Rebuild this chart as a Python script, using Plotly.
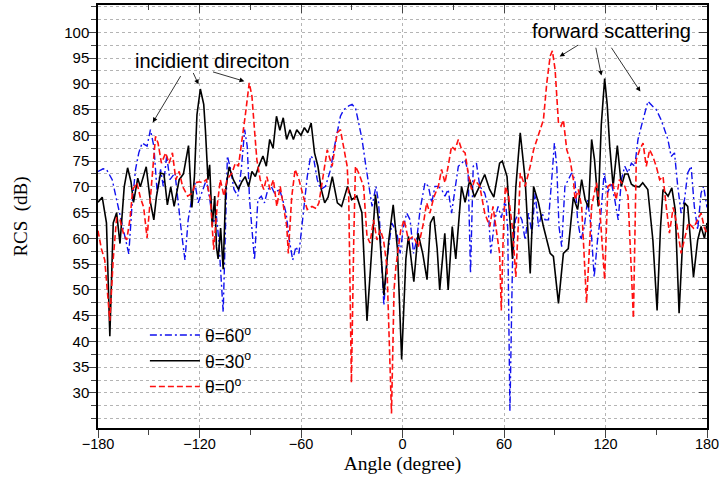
import plotly.graph_objects as go

# theta = 60 deg (blue, dash-dot)
ANGLE_60 = [-180, -177, -175, -171.6, -168.6, -166.6, -163.7, -161.8, -159.8, -157.8, -155.9, -153.9,
            -151, -149, -147, -145, -143, -141.4, -139.4, -137.5, -134.5, -132.5, -130.6, -128.6,
            -126.7, -124.7, -122.7, -120.8, -118.8, -115.9, -113.9, -112, -110, -108.6, -106, -103.5,
            -101.6, -99.6, -97.3, -95.3, -93.3, -91.8, -90.4, -89.4, -87.5, -85.5, -83.5, -81.6,
            -79.6, -77.6, -75.7, -72.7, -70.8, -68.8, -66.9, -64.9, -63, -61.2, -58.2, -56.3,
            -54.3, -52.4, -50.4, -48.4, -45.5, -42.5, -40.6, -38.6, -36.7, -34.7, -31.8, -29.8,
            -27.8, -25.9, -23.9, -21.9, -20, -18, -15.7, -14.1, -12.2, -11, -9.2, -6.3,
            -3.3, -1.4, 0.6, 2.5, 4.5, 6.5, 8.4, 10.4, 13.3, 15.3, 17.3, 19.2,
            21.2, 23.1, 25.1, 27, 29, 31, 33, 35, 37, 38.8, 40.2, 41.8,
            43.7, 45.7, 48.6, 50.6, 52.2, 54.5, 56.5, 58.4, 60.8, 62.2, 63.5, 65,
            66.7, 68.6, 70.6, 72.5, 74.5, 76.5, 78.4, 80.4, 82.4, 84.3, 86.3, 88.2,
            89.8, 91.2, 92.5, 94.1, 96, 98, 100, 101.9, 103.5, 105.5, 107.5, 109.4,
            111.4, 113.3, 115.3, 117.3, 119.2, 121.2, 123.5, 125.5, 127.5, 129.4, 131.4, 133.3,
            135.3, 137.3, 139.2, 141.2, 143.1, 145.1, 148, 150, 152.9, 154.9, 156.9, 158.8,
            160.8, 162.7, 164.7, 166.7, 168.6, 170.6, 172.5, 174.5, 176.5, 178, 180]
RCS_60 = [73, 73.5, 73.4, 71.4, 66.9, 64, 59.7, 57, 66.9, 73.4, 76.6, 78.5,
          77.9, 81.1, 77.9, 68.8, 73.4, 70.1, 76, 71.4, 72.7, 66.2, 61, 55.8,
          63.6, 67.5, 70.8, 66.9, 68.8, 71.4, 67.5, 63, 64.3, 59.7, 45.7, 76,
          73.4, 69.5, 68.2, 73.4, 81.1, 77.9, 67.5, 63, 55.8, 67.5, 68.2, 66.9,
          69.5, 70.1, 68.8, 69.5, 67.5, 64.9, 59.7, 55.8, 58.4, 57.1, 66.2, 72,
          76, 75.3, 71.4, 69.5, 70.1, 73.4, 77.2, 80.5, 83.7, 85, 85.7, 86,
          85.3, 82.4, 79.2, 74.6, 70.8, 66.2, 70.1, 66.9, 54.5, 47, 55.8, 63,
          61, 57.1, 62.3, 64.9, 63.6, 57.1, 59.7, 65.6, 70.8, 70.1, 66.9, 70.1,
          70.1, 69.5, 68.2, 69.5, 64.9, 69.5, 74, 74.6, 75.3, 72.7, 53.2, 74,
          74.6, 70.1, 68.8, 66.2, 57.1, 63.6, 66.2, 64, 67.5, 62, 26.5, 55,
          63.6, 64.9, 63.6, 59.7, 64.9, 61, 68.8, 62.3, 64.9, 63.6, 63.6, 71.4,
          78.5, 74, 62.3, 58.4, 70.1, 71.4, 72.7, 71.4, 63.6, 59.7, 62.3, 67.5,
          62.3, 52.5, 59.7, 64.9, 72.7, 68.8, 70.8, 67.5, 63.6, 71.4, 74, 72.7,
          74.6, 74, 79.2, 81.8, 84.4, 86.6, 85.6, 85, 83, 81.1, 79.2, 75.9,
          76.6, 70.1, 64.9, 67.5, 72.7, 74, 66.2, 61.7, 68.8, 70.1, 66]

# theta = 30 deg (black, solid)
ANGLE_30 = [-180, -177.5, -175, -173, -171, -169, -167, -164.5, -162.5, -160.5, -159, -156.5,
            -155, -151.5, -149, -147, -145.5, -143, -141, -139, -137, -135, -132, -129.5,
            -126.5, -124.5, -123, -121.5, -119.5, -117.5, -116.5, -115, -114, -112.5, -111, -110,
            -109, -107.5, -106, -104.5, -102.5, -100, -97, -95, -93, -91, -89, -87,
            -85, -82.5, -80.5, -78.5, -76.5, -74.5, -72.5, -70.5, -68.5, -66.5, -64.5, -62.5,
            -60, -58, -56, -54, -52, -50, -48, -46, -44, -41.5, -38.5, -36,
            -32.5, -30, -27, -24, -21, -18, -16, -14, -11, -8, -5.5, -3,
            -0.5, 2, 3.5, 6.7, 9.2, 12, 14.5, 16.5, 18.5, 20.5, 22, 25,
            27, 29.4, 31.5, 34.9, 37, 39.8, 42.5, 45.5, 48.6, 51.5, 54, 57.4,
            59, 61.8, 65, 67, 69.6, 72.5, 75.5, 77.5, 80.4, 83.3, 87.3, 89.2,
            92.2, 95.1, 98, 101, 103.5, 105.9, 108, 110, 111.8, 113.5, 115.7, 117.5,
            119.5, 121, 122.5, 124.5, 127, 129.4, 131.4, 133.3, 135.3, 137.3, 140, 142,
            145, 148, 150.5, 152.5, 154, 157, 159.2, 161.2, 163.5, 166.7, 168.6, 172,
            174.5, 176.5, 178.5, 180]
RCS_30 = [67, 68, 63, 41, 63, 65, 59, 70, 73.7, 71, 67, 71.7,
          70, 73.9, 67, 63.6, 68, 72.7, 72.5, 66.5, 70, 66.2, 71.4, 72.5,
          78, 66, 72, 84, 89, 86, 81, 71.4, 74.3, 62.3, 68.2, 58.4,
          56, 62, 54, 69.5, 73.9, 71.4, 69.5, 71, 72, 70, 73, 72,
          74, 76, 74, 79.2, 77.5, 83.7, 81, 83.4, 79.2, 81.1, 79.2, 81.1,
          80, 81.5, 80.5, 82.4, 76.6, 74, 69.5, 66.9, 68, 72, 66.9, 66.2,
          70.1, 67.5, 68.2, 65, 44, 60, 68.5, 63, 49, 60, 66.5, 58,
          36.5, 56, 60.4, 51.6, 61, 57, 52, 63, 64.3, 58, 50, 61,
          50, 62.3, 56, 70.1, 67, 71.4, 68, 70.1, 72.4, 69.5, 68, 74.6,
          75, 72, 56, 70, 80.5, 71.4, 53.2, 70.1, 66.9, 62.3, 57.1, 56.5,
          47.4, 57.1, 58, 68, 65.6, 71.4, 67.5, 66, 79.2, 75.3, 66.2, 82,
          91, 86, 77.9, 70.1, 78, 70.1, 72.5, 72.5, 70.5, 70.1, 70, 70.8,
          69.5, 59.7, 46, 62, 69.5, 68.2, 69.8, 65.6, 45.5, 66.9, 66.2, 52.5,
          59.7, 62.3, 60, 63]

# theta = 0 deg (red, dashed)
ANGLE_0 = [-180, -178, -176, -173, -171, -169, -167, -165, -163, -161, -159.5, -157,
           -155, -153, -151, -148.5, -146, -144.5, -142.5, -140, -138, -136, -134, -132,
           -130, -127, -124.3, -122.4, -120, -118.4, -116, -113.5, -111.6, -109.6, -107.7, -105.5,
           -103.8, -100.8, -98.8, -97, -95, -93, -90.6, -89, -87.5, -86.1, -84.1, -82,
           -80.2, -78.3, -76.3, -74.3, -72.3, -70.4, -68.4, -67.5, -65.5, -63.5, -61.2, -58.5,
           -56.3, -53.5, -51, -49.4, -46.5, -44.5, -41.6, -38.6, -36.7, -34.7, -32.7, -31.8,
           -30.2, -28.8, -27.8, -25.9, -23, -21, -19.2, -17.1, -15.1, -13.1, -11.2, -9.2,
           -6.5, -5, -3.9, -1, 1, 3.5, 6.4, 9.4, 12.4, 14.3, 16.2, 18.5,
           21.2, 23.1, 25.1, 27, 29, 31, 33, 35, 37, 38.8, 40.8, 42.7,
           45.7, 48.6, 51.6, 53.5, 55.5, 57.4, 58.4, 59.5, 60.8, 62.7, 65, 67,
           68.5, 69.6, 72.5, 75.5, 77.5, 79.4, 81.4, 83.3, 85.3, 87.3, 88.6, 90.2,
           92.2, 93.7, 95.1, 97.1, 99, 101, 102, 103.9, 105.9, 108.8, 111.8, 114.7,
           116.5, 119.5, 121.4, 124.3, 126.3, 128.2, 131.4, 133.3, 136.5, 138.2, 140.2, 142.2,
           144.1, 146.1, 148, 150, 152, 154, 155.9, 157.8, 160, 162, 164.7, 167,
           169, 172, 174.5, 176.5, 178.5, 180]
RCS_0 = [61.5, 58, 55.8, 44, 56, 64, 63.6, 61, 59.7, 64, 69.5, 70.8,
         68, 66, 60.1, 70, 79.8, 78.5, 74.6, 76.6, 74.6, 76.6, 71.4, 73,
         70.1, 68.2, 68.8, 70.8, 71, 70.8, 71.4, 67.5, 57.8, 66.2, 71.4, 68.2,
         71.4, 72.7, 74.6, 74, 78.5, 83.7, 90.2, 87.6, 81.1, 75.3, 71.4, 69.5,
         72, 69.5, 71.4, 66.2, 70.1, 66.2, 62.3, 57.1, 68, 73.4, 71.4, 68,
         65.6, 66.2, 65.8, 66.9, 72.7, 77.2, 74, 80.5, 81.1, 77.2, 74, 68.2,
         32, 60, 74, 72.7, 70.1, 60.4, 59.1, 63.6, 59.7, 61.7, 59.7, 54.5,
         26, 50, 54.5, 61.7, 63.6, 59.7, 60.4, 58.4, 63, 66.9, 64.9, 68,
         70.1, 73.4, 70.8, 74, 77.9, 77.2, 79.2, 77.2, 76.6, 72.7, 69.5, 71.4,
         70.1, 64.9, 62.3, 66.2, 61, 57.1, 46, 60, 70.1, 68.2, 62, 52.5,
         63, 72.7, 70.1, 74, 77.2, 79.2, 81.1, 83, 90.2, 95.4, 96.4, 92.8,
         82.4, 81.8, 83, 77.2, 75.3, 71.4, 67.5, 69.5, 66.2, 47.5, 66.2, 70.8,
         66.2, 52, 70.1, 70.8, 67.5, 71.4, 70.1, 68.2, 44.5, 75.3, 77.2, 78.5,
         74, 77.2, 75.9, 74, 71.4, 72, 66.2, 61, 66, 63, 57.1, 60,
         63, 62, 63.6, 64.9, 62, 61]

Y_TICKS = list(range(30, 101, 5))
X_TICKS = list(range(-180, 181, 60))

SANS = "Liberation Sans, Arial, sans-serif"
SERIF = "Liberation Serif, Times New Roman, serif"

fig = go.Figure()
fig.add_trace(go.Scatter(x=ANGLE_60, y=RCS_60, mode="lines", name="θ=60<sup>o</sup>",
                         line=dict(color="#1010ee", width=1.4, dash="7px,3px,2px,3px")))
fig.add_trace(go.Scatter(x=ANGLE_30, y=RCS_30, mode="lines", name="θ=30<sup>o</sup>",
                         line=dict(color="black", width=1.6)))
fig.add_trace(go.Scatter(x=ANGLE_0, y=RCS_0, mode="lines", name="θ=0<sup>o</sup>",
                         line=dict(color="#ff1010", width=1.6, dash="6px,3px")))
# empty trace so the mirrored (top/right) axes with inside ticks get drawn
fig.add_trace(go.Scatter(x=[None], y=[None], xaxis="x2", yaxis="y2",
                         showlegend=False, hoverinfo="skip"))

X_RANGE = [-180, 180]
Y_RANGE = [23.2, 105.3]
grid = dict(gridcolor="#b4b4b4", griddash="dot", gridwidth=1)

fig.update_layout(
    width=719, height=485,
    margin=dict(l=98, r=12, t=5, b=57),
    plot_bgcolor="white", paper_bgcolor="white",
    font=dict(family=SANS, size=15, color="black"),
    xaxis=dict(range=X_RANGE, tickvals=X_TICKS, showline=True, linecolor="black", linewidth=1.5,
               ticks="outside", ticklen=8, tickwidth=1.2, zeroline=False, automargin=False, **grid,
               minor=dict(dtick=30, tick0=0, ticks="outside", ticklen=5, showgrid=False),
               ticklabelstandoff=-6, ticklabeloverflow="allow",
               title=dict(text="Angle (degree)", font=dict(family=SERIF, size=19.5), standoff=5),
               tickfont=dict(size=14.5)),
    yaxis=dict(range=Y_RANGE, tickvals=Y_TICKS, showline=True, linecolor="black", linewidth=1.5,
               ticks="outside", ticklen=8, tickwidth=1.2, zeroline=False, automargin=False, **grid,
               minor=dict(dtick=2.5, tick0=0, ticks="outside", ticklen=5, showgrid=True, **grid),
               ticklabelstandoff=-4,
               title=dict(text="RCS  (dB)", font=dict(family=SERIF, size=19), standoff=32),
               tickfont=dict(size=15)),
    xaxis2=dict(range=X_RANGE, overlaying="x", side="top", anchor="y", tickvals=X_TICKS,
                showticklabels=False, showline=True, linecolor="black", linewidth=1.5,
                ticks="inside", ticklen=8, tickwidth=1.2, showgrid=False, zeroline=False,
                automargin=False, minor=dict(dtick=30, tick0=0, ticks="inside", ticklen=5)),
    yaxis2=dict(range=Y_RANGE, overlaying="y", side="right", anchor="x", tickvals=Y_TICKS,
                showticklabels=False, showline=True, linecolor="black", linewidth=1.5,
                ticks="inside", ticklen=8, tickwidth=1.2, showgrid=False, zeroline=False,
                automargin=False, minor=dict(dtick=2.5, tick0=0, ticks="inside", ticklen=5)),
    legend=dict(x=0.077, y=0.262, xanchor="left", yanchor="top", bgcolor="rgba(0,0,0,0)",
                font=dict(family=SANS, size=17.5), tracegroupgap=0, itemwidth=50),
    showlegend=True,
)

# text labels and arrows (tip, tail) in data coordinates
LABELS = [("incidient direciton", -112.4, 94.4), ("forward scattering", 123.5, 100.2)]
ARROWS = [((-147.6, 82.5), (-130.6, 91.8)), ((-120.6, 89.9), (-124.1, 92.4)),
          ((-93.5, 90.5), (-112.9, 92.4)), ((92.9, 95.3), (104.7, 97.7)),
          ((117.6, 91.6), (114.1, 97.3)), ((140.6, 88.5), (122.9, 97.3))]

for text, x, y in LABELS:
    fig.add_annotation(x=x, y=y, text=text, showarrow=False, font=dict(family=SANS, size=20))
for (tx, ty), (sx, sy) in ARROWS:
    fig.add_annotation(x=tx, y=ty, ax=sx, ay=sy, axref="x", ayref="y", text="",
                       showarrow=True, arrowhead=2, arrowsize=1.2, arrowwidth=0.8,
                       arrowcolor="black")

# the page's default body margin would shift the figure by 8px
fig.write_html("out.html", config={"displayModeBar": False},
               post_script="document.body.style.margin='0';")
